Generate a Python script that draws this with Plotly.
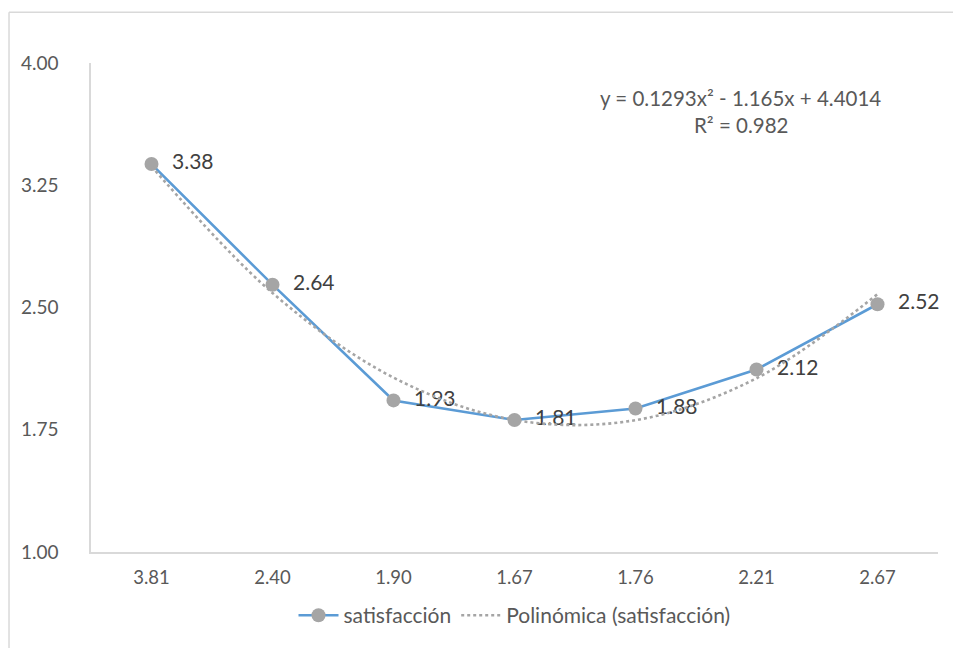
import plotly.graph_objects as go

categories = ["3.81", "2.40", "1.90", "1.67", "1.76", "2.21", "2.67"]
satisfaccion = [3.38, 2.64, 1.93, 1.81, 1.88, 2.12, 2.52]
trend_values = [3.366, 2.589, 2.070, 1.810, 1.809, 2.066, 2.582]
label_text = ["3.38", "2.64", "1.93", "1.81", "1.88", "2.12", "2.52"]
y_ticks = [1.00, 1.75, 2.50, 3.25, 4.00]
y_tick_text = ["1.00", "1.75", "2.50", "3.25", "4.00"]
equation = "y = 0.1293x² - 1.165x + 4.4014"
r2 = "R² = 0.982"

FONT = "Lato"

fig = go.Figure()
fig.add_trace(go.Scatter(
    x=categories, y=satisfaccion, mode="lines+markers+text",
    name="satisfacción",
    line=dict(color="#5B9BD5", width=2.6),
    marker=dict(color="#A5A5A5", size=14),
    text=label_text, texttemplate="  %{text}", textposition="middle right",
    textfont=dict(family=FONT, size=21, color="#404040"),
    cliponaxis=False,
))
fig.add_trace(go.Scatter(
    x=categories, y=trend_values, mode="lines",
    name="Polinómica (satisfacción)",
    line=dict(color="#A5A5A5", width=2.6, dash="dot", shape="spline"),
))

fig.update_layout(
    width=953, height=648,
    margin=dict(l=91, r=15, t=63, b=93),
    paper_bgcolor="white", plot_bgcolor="white",
    font=dict(family=FONT, size=19, color="#595959"),
    showlegend=True,
    legend=dict(orientation="h", x=0.5, xanchor="center", y=-0.088, yanchor="top",
                font=dict(family=FONT, size=21, color="#595959"), itemwidth=40,
                traceorder="normal"),
    xaxis=dict(type="category", range=[-0.5, 6.5], showgrid=False, showline=True,
               linecolor="#D9D9D9", linewidth=1.5, ticks="", zeroline=False,
               ticklabelstandoff=8,
               tickfont=dict(family=FONT, size=18.5, color="#595959")),
    yaxis=dict(range=[1.0, 4.0], tickvals=y_ticks, ticktext=y_tick_text,
               showgrid=False, showline=True, linecolor="#D9D9D9", linewidth=1.5,
               ticks="", zeroline=False, ticklabelstandoff=27,
               tickfont=dict(family=FONT, size=19, color="#595959")),
    annotations=[
        dict(x=0.767, y=0.929, xref="paper", yref="paper", text=equation,
             xanchor="center", yanchor="middle",
             showarrow=False, font=dict(family=FONT, size=20.5, color="#595959")),
        dict(x=0.767, y=0.874, xref="paper", yref="paper", text=r2,
             xanchor="center", yanchor="middle",
             showarrow=False, font=dict(family=FONT, size=20.5, color="#595959")),
    ],
    shapes=[
        dict(type="line", xref="paper", yref="paper", x0=-0.0968, x1=1.03, y0=1.1037, y1=1.1037,
             line=dict(color="#D9D9D9", width=1.5)),
        dict(type="line", xref="paper", yref="paper", x0=-0.0968, x1=-0.0968, y0=1.1037, y1=-0.2,
             line=dict(color="#D9D9D9", width=1.5)),
    ],
)

fig.write_html("out.html", config={"displayModeBar": False},
               post_script="document.body.style.margin='0';document.body.style.overflow='hidden';")
